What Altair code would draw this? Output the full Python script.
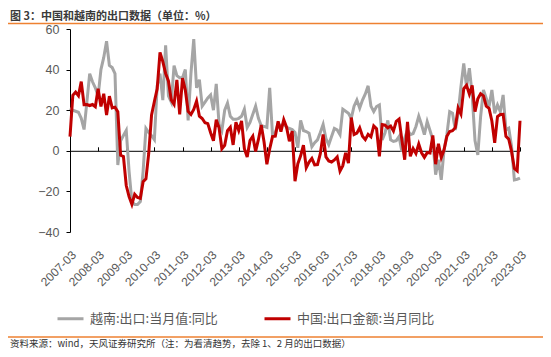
import json
import altair as alt
import pandas as pd

# ---- data (monthly YoY %, Jan/Feb removed), 2007-03 .. 2023-03 ----
years = list(range(2007, 2024))
months = [3, 4, 5, 6, 7, 8, 9, 10, 11, 12]

vietnam = [
    21, 20, 19.5, 19, 16, 10.5, 24, 38, 34, 31,            # 2007
    27, 40, 46, 54, 42, 41, 38, -7, 5, 7.5,                # 2008
    10, -10, -25, -26.5, -26.5, -25, -10, 11, 9, 7.5,      # 2009
    5.5, 32, 38, 25, 52, 27, 24, 42, 37, 36,               # 2010
    36, 40, 15, 38, 55, 31, 35, 22, 24, 26,                # 2011
    27.5, 20, 33, 13, 10, 20, 23.5, 17, 15.5, 15.5,        # 2012
    16, 17, 20.5, 11.5, 14, 18, 22, 16, 12.3, 12,          # 2013
    11.5, 31, 8, 9, 13.5, 12, 13.5, 11.5, 11, 10.5,        # 2014
    9, 1.5, 15, 10, 9.5, 8.7, 2, 4, 5.4, 9,                # 2015
    13, 6, 3, 7, 11, 10.3, 8, 20.5, 19.5, 18.5,            # 2016
    16, 22, 25, 21, 25, 28, 32, 22, 19.3, 21.8,            # 2017
    22.6, 5.4, 8.7, 15, 5.4, 4.6, 5, 7, -0.3, 6.2,         # 2018
    10.3, 8, 8.5, 12, 17, 12.8, 8, 14.4, 10, 5.4,          # 2019
    -11.8, -4.4, -14.3, 0.5, 7.9, 19.3, 18.5, 10.3, 18.5, 31.6,  # 2020
    43, 31.6, 40.7, 27.5, 5, -2, 16.9, 30, 25.9, 21.8,     # 2021
    30, 18.5, 22.6, 19.3, 27.5, 10.3, 11.1, 2.1, -14.3, -14,  # 2022
    -13.4,                                                  # 2023-03
]

china = [
    7.0, 27.3, 28.9, 27.1, 34.1, 22.7, 22.8, 22.3, 22.8, 21.7,       # 2007
    30.6, 21.8, 28.1, 17.6, 26.9, 21.1, 21.5, 19.2, -2.2, -2.8,      # 2008
    -17.1, -22.6, -26.4, -21.4, -23.0, -23.4, -15.2, -13.8, -1.2, 17.7,  # 2009
    24.3, 30.5, 48.5, 43.9, 38.1, 34.4, 25.1, 22.9, 34.9, 17.9,      # 2010
    35.8, 29.9, 19.4, 17.9, 20.4, 24.5, 17.1, 15.9, 13.8, 13.4,      # 2011
    8.9, 4.9, 15.3, 11.3, 1.0, 2.7, 9.9, 11.6, 2.9, 14.1,            # 2012
    10.0, 14.7, 1.0, -3.1, 5.1, 7.2, -0.3, 5.6, 12.7, 4.3,           # 2013
    -6.6, 0.9, 7.0, 7.2, 14.5, 9.4, 15.3, 11.6, 4.7, 9.7,            # 2014
    -15.0, -6.4, -2.5, 2.8, -8.3, -5.5, -3.7, -6.9, -6.8, -1.4,      # 2015
    8.0, -3.0, -5.0, -5.5, -4.5, -3.0, -10.0, -7.3, -1.0, -6.1,      # 2016
    16.4, 8.0, 8.7, 11.3, 7.2, 5.5, 8.1, 6.9, 12.3, 10.9,            # 2017
    -2.7, 12.9, 12.6, 11.3, 12.2, 9.8, 14.5, 15.6, 5.4, -4.4,        # 2018
    14.2, -2.7, 1.1, -1.3, 3.3, -1.0, -3.2, -0.9, -1.1, 7.6,         # 2019
    -6.6, 3.5, -3.3, 0.5, 7.2, 9.5, 9.9, 11.4, 21.1, 18.1,           # 2020
    30.6, 32.3, 27.9, 32.2, 19.3, 25.6, 28.1, 27.1, 22.0, 20.9,      # 2021
    14.7, 3.9, 16.9, 17.9, 18.0, 7.1, 5.7, -0.3, -8.7, -9.9,         # 2022
    14.8,                                                             # 2023-03
]

series_names = ["越南:出口:当月值:同比", "中国:出口金额:当月同比"]
series_colors = ["#A5A5A5", "#C00000"]
tick_labels = [f"{y}-03" for y in years]
y_ticks = [-40, -30, -20, -10, 0, 10, 20, 30, 40, 50, 60]

title_text = "图 3：中国和越南的出口数据（单位：%）"
source_text = "资料来源：wind，天风证券研究所（注：为看清趋势，去除 1、2 月的出口数据）"

# ---- build long table ----
month_labels = [f"{y}-{m:02d}" for y in years for m in months][: len(china)]
rows = []
for i, lab in enumerate(month_labels):
    rows.append({"i": i, "month": lab, "series": series_names[0], "order": 0, "v": vietnam[i]})
for i, lab in enumerate(month_labels):
    rows.append({"i": i, "month": lab, "series": series_names[1], "order": 1, "v": china[i]})
df = pd.DataFrame(rows)

W, H = 450, 203
N = len(china) - 1
tick_pos = [10 * k for k in range(len(tick_labels))]
zero_px = H * 60 / 100.0

xscale = alt.Scale(domain=[0, N], nice=False, zero=False)
yscale = alt.Scale(domain=[-40, 60], nice=False, zero=False)

label_expr = f"{json.dumps(tick_labels)}[round(datum.value / 10)]"

lines = alt.Chart(df).mark_line(strokeWidth=3).encode(
    x=alt.X("i:Q", scale=xscale, title=None,
            axis=alt.Axis(orient="bottom", values=tick_pos, labelExpr=label_expr,
                          domain=False, ticks=False, grid=False, labelAngle=-45,
                          labelAlign="right", labelBaseline="top", labelPadding=17,
                          labelFont="Liberation Sans", labelFontSize=12,
                          labelColor="#595959", labelOverlap=False, labelBound=False)),
    y=alt.Y("v:Q", scale=yscale, title=None,
            axis=alt.Axis(values=y_ticks, grid=False, domainColor="#000000",
                          tickColor="#000000", tickSize=4, labelPadding=7,
                          labelFont="Liberation Sans", labelFontSize=12.5,
                          labelColor="#595959")),
    color=alt.Color("series:N",
                    scale=alt.Scale(domain=series_names, range=series_colors),
                    sort=series_names,
                    legend=alt.Legend(title=None, orient="none", legendX=-14, legendY=275,
                                      direction="horizontal", symbolType="stroke",
                                      symbolSize=676, symbolStrokeWidth=3,
                                      labelFont="Noto Sans CJK SC", labelFontSize=13,
                                      labelColor="#595959", labelOffset=5,
                                      columnPadding=40)),
    order="order:Q",
    detail="series:N",
)

zero_axis = alt.Chart(df).mark_point(opacity=0).encode(
    x=alt.X("i:Q", scale=xscale, title=None,
            axis=alt.Axis(orient="top", offset=-zero_px, values=tick_pos, labels=False,
                          domainColor="#000000", tickColor="#000000", tickSize=4,
                          grid=False)),
    y=alt.Y("v:Q", scale=yscale),
)

deco_df = pd.DataFrame({"t": [title_text]})
title_mark = alt.Chart(deco_df).mark_text(
    align="left", baseline="middle", font="Noto Sans CJK SC", fontSize=11,
    fontWeight="bold", color="#3A3A3A"
).encode(text="t:N", x=alt.value(-60), y=alt.value(-12.5))

src_df = pd.DataFrame({"t": [source_text]})
source_mark = alt.Chart(src_df).mark_text(
    align="left", baseline="middle", font="Noto Sans CJK SC", fontSize=9.5,
    color="#333333"
).encode(text="t:N", x=alt.value(-60), y=alt.value(314.5))

top_rule = alt.Chart(deco_df).mark_rule(color="#EE8131", strokeWidth=1.5).encode(
    x=alt.value(-62), x2=alt.value(473), y=alt.value(-5.5))
bottom_rule = alt.Chart(deco_df).mark_rule(color="#EE8131", strokeWidth=1.5).encode(
    x=alt.value(-62), x2=alt.value(473), y=alt.value(308))

chart = alt.layer(zero_axis, lines, title_mark, source_mark, top_rule, bottom_rule).properties(
    width=W, height=H,
    padding={"left": 62, "top": 21, "right": 23, "bottom": 117},
    autosize="none",
).configure_view(stroke=None)

chart.save("out.html", embed_options={"renderer": "svg", "actions": False})
